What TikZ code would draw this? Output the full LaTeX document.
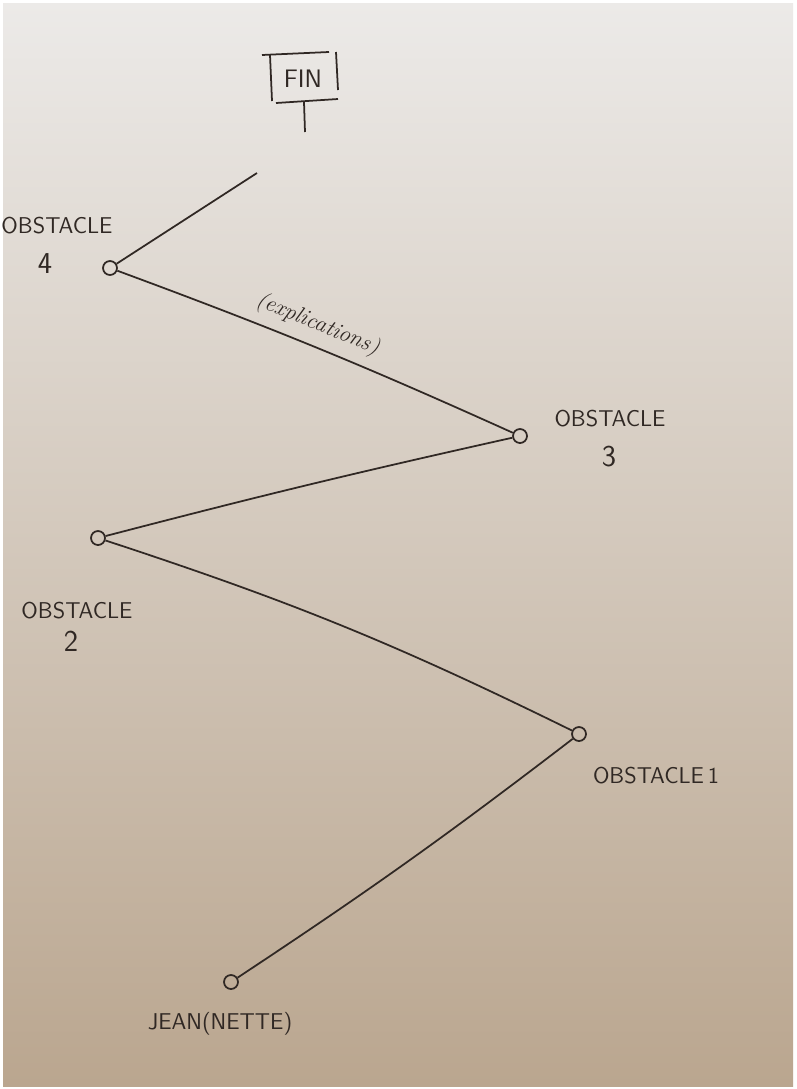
\documentclass[tikz,border=0pt]{standalone}
\usepackage{xcolor}

\definecolor{ink}{RGB}{48,40,36}
\definecolor{papertop}{RGB}{236,234,232}
\definecolor{paperbottom}{RGB}{186,166,143}

\begin{document}
\begin{tikzpicture}[x=0.02cm, y=-0.02cm, line width=1pt, draw=ink]
        % cadre et papier
        \def\D{0.28} % diamètre des petits cercles
        \def\inkfont{\sffamily\fontsize{13}{22}\selectfont}
        \useasboundingbox (0,0) rectangle (796,1089);
        \fill[white] (0,0) rectangle (796,1089);
        \shade[top color=papertop, bottom color=paperbottom] (3,3) rectangle (793,1086);

        \tikzstyle{halte} = [circle, draw=ink, fill=none, minimum size=\D cm, inner sep=0pt]
        \tikzstyle{legende} = [text=ink, font=\inkfont, align=center]
        \tikzstyle{numero} = [text=ink, font=\sffamily\LARGE]

        % 1. le panneau FIN
        \node[text=ink, font=\sffamily\Large] (fin) at (303,79) {FIN};
        \draw (262,55) -- (329,52);
        \draw (270,55) -- (272,101);
        \draw (336,52) -- (338,90);
        \draw (276,103) -- (338,99);
        \draw (304,102) -- (305,132);

        % 2. les obstacles
        \node[halte] (o4) at (110,268) {};
        \node[legende] (l4) at (57,226) {OBSTACLE};
        \node[numero] (n4) at (45,264) {4};

        \node[halte] (o3) at (520,436) {};
        \node[legende] (l3) at (610,419) {OBSTACLE};
        \node[numero] (n3) at (609,457) {3};

        \node[halte] (o2) at (98,538) {};
        \node[legende] (l2) at (77,611) {OBSTACLE};
        \node[numero] (n2) at (71,641) {2};

        \node[halte] (o1) at (579,734) {};
        \node[legende] (l1) at (656,776) {OBSTACLE\,1};

        % départ
        \node[halte] (jean) at (231,982) {};
        \node[legende] (ljean) at (220,1024) {JEAN(NETTE)};

        % 3. le chemin
        \coordinate (bout) at (257,173);
        \draw (jean) to[bend right=2] (o1);
        \draw (o1) to[bend right=4] (o2);
        \draw (o2) to[bend left=1] (o3);
        \draw (o3) to[bend right=2] node[pos=0.52, sloped, above=2pt, text=ink,
              font=\itshape\fontsize{13}{15}\selectfont] (expl) {(explications)} (o4);
        \draw (o4) -- (bout);

    \end{tikzpicture}
\end{document}
